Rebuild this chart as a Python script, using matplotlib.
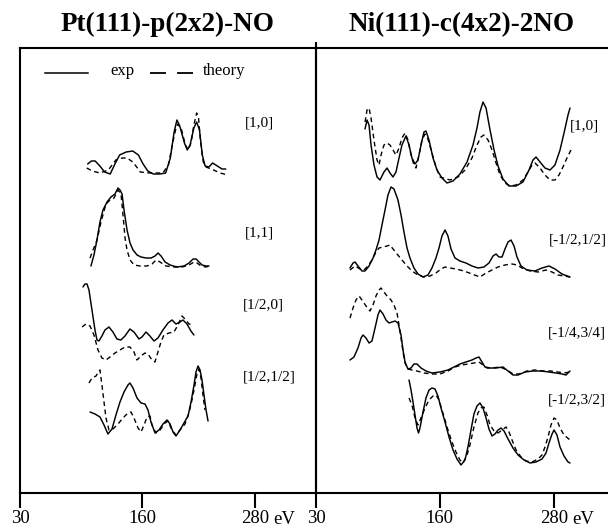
import matplotlib
matplotlib.use("Agg")
import matplotlib.pyplot as plt
from matplotlib.lines import Line2D

plt.rcParams['font.family'] = ['Liberation Serif', 'DejaVu Serif']
plt.rcParams['lines.scale_dashes'] = False

# ---------------- data (energy in eV, intensity in arbitrary offset units) ----------------
titles = ["Pt(111)-p(2x2)-NO", "Ni(111)-c(4x2)-2NO"]
tick_values = [30, 160, 280]
tick_labels = ["30", "160", "280"]
unit_label = "eV"

# Pt(111) panel
pt_labels = ["[1,0]", "[1,1]", "[1/2,0]", "[1/2,1/2]"]

pt10_exp_E = [102, 106, 110, 115, 120, 126, 131, 136, 143, 150, 156, 161, 166, 172, 179, 185, 190,
              194, 197, 200, 205, 208, 211, 215, 218, 221, 224, 227, 231, 235, 240, 245, 249]
pt10_exp_I = [329, 332, 332, 327, 321, 319, 329, 338, 341, 342, 338, 329, 322, 319, 319, 320, 335,
              361, 373, 367, 350, 343, 348, 365, 371, 363, 338, 327, 326, 330, 327, 324, 324]
pt10_th_E = [101, 107, 115, 124, 132, 139, 144, 150, 155, 158, 168, 182, 188, 192, 196, 198, 202,
             206, 209, 212, 215, 218, 220, 222, 225, 228, 236, 243, 251]
pt10_th_I = [325, 322, 320, 323, 333, 335, 335, 331, 325, 321, 320, 320, 328, 348, 365, 369, 363,
             348, 343, 350, 368, 380, 375, 353, 331, 326, 323, 320, 318]

pt11_exp_E = [105.5, 108.7, 111.9, 115.1, 118.3, 122.6, 126.8, 131.1, 134.3, 136.4, 138.6, 140.7,
              143.9, 147.1, 150.3, 154.6, 158.8, 164.1, 169.5, 173.7, 176.9, 180.1, 184.4, 189.7,
              197.1, 204.6, 209.9, 214.2, 217.4, 220.5, 223.7, 228.0, 231.2]
pt11_exp_I = [227, 238, 253, 271, 283, 291, 296, 299, 305, 303, 299, 283, 263, 250, 243, 238, 236,
              235, 235, 237, 240, 237, 231, 228, 226, 227, 230, 234, 234, 231, 228, 227, 227]
pt11_th_E = [104.5, 107.7, 112.0, 116.2, 121.5, 125.8, 130.0, 134.3, 137.5, 139.6, 141.8, 143.9,
             147.1, 151.4, 157.7, 165.2, 170.5, 174.8, 179.0, 185.4, 193.9, 202.4, 209.9, 215.2,
             218.4, 222.7, 228.0, 231.2]
pt11_th_I = [235, 243, 253, 271, 289, 293, 295, 303, 299, 278, 255, 243, 233, 228, 227, 227, 229,
             233, 231, 227, 226, 226, 228, 231, 230, 227, 226, 227]

pt20_exp_E = [97.0, 99.1, 101.3, 103.4, 106.6, 109.8, 111.9, 114.0, 117.2, 120.4, 124.7, 128.9,
              133.2, 137.4, 141.7, 147.0, 151.3, 156.6, 159.8, 164.1, 168.3, 172.6, 176.8, 182.1,
              187.5, 191.7, 196.0, 200.2, 203.4, 207.7, 211.9, 215.1]
pt20_exp_I = [206, 209, 209, 203, 183, 163, 153, 152, 157, 163, 166, 161, 154, 153, 157, 164, 161,
              154, 156, 161, 157, 152, 155, 163, 170, 173, 169, 171, 173, 169, 162, 158]
pt20_th_E = [96.0, 100.2, 104.5, 108.7, 113.0, 117.2, 121.5, 125.8, 131.1, 136.4, 141.7, 147.0,
             151.3, 154.5, 158.7, 163.0, 166.2, 170.4, 173.6, 176.8, 180.0, 183.2, 188.5, 193.9,
             198.1, 202.4, 205.6, 209.8, 215.1]
pt20_th_I = [166, 169, 167, 158, 143, 135, 133, 136, 140, 143, 146, 146, 141, 133, 137, 140, 139,
             133, 131, 141, 151, 158, 160, 161, 168, 177, 174, 169, 168]

pt22_exp_E = [104.5, 109.8, 115.1, 119.4, 123.6, 127.9, 132.1, 136.4, 140.7, 144.9, 147.0, 150.3,
              154.5, 158.8, 163.0, 166.2, 169.4, 173.7, 177.9, 182.2, 186.4, 189.7, 192.8, 196.0,
              200.3, 204.5, 208.8, 212.0, 215.2, 217.3, 219.5, 221.6, 223.7, 225.8, 228.0, 230.1]
pt22_exp_I = [81, 79, 76, 68, 59, 64, 78, 91, 101, 108, 110, 105, 95, 90, 89, 83, 71, 60, 63, 69,
              73, 69, 61, 57, 63, 70, 77, 91, 108, 121, 127, 123, 113, 98, 83, 72]
pt22_th_E = [103.4, 106.6, 110.9, 114.1, 115.1, 117.2, 119.4, 121.5, 124.7, 128.9, 134.3, 139.6,
             144.9, 148.1, 151.3, 155.6, 158.8, 162.0, 165.2, 168.3, 170.4, 174.7, 179.0, 184.3,
             187.5, 191.7, 196.0, 200.2, 205.6, 209.8, 213.0, 216.2, 218.3, 220.5, 222.6, 224.7,
             226.8]
pt22_th_I = [110, 115, 117, 122, 123, 108, 91, 75, 63, 64, 69, 75, 80, 81, 75, 65, 61, 68, 76, 77,
             68, 60, 63, 70, 72, 63, 58, 63, 69, 80, 93, 108, 119, 124, 115, 98, 83]

# Ni(111) panel
ni_labels = ["[1,0]", "[-1/2,1/2]", "[-1/4,3/4]", "[-1/2,3/2]"]

ni10_exp_E = [81.5, 83.6, 85.7, 87.8, 90.9, 94.1, 97.2, 101.4, 104.6, 107.7, 110.9, 114.0, 117.2,
              120.3, 124.5, 127.7, 130.8, 134.0, 137.1, 140.3, 143.4, 145.5, 148.7, 152.9, 157.1,
              162.3, 167.6, 173.9, 181.2, 188.6, 194.9, 199.1, 202.2, 205.4, 208.6, 212.8, 217.0,
              221.2, 226.4, 232.7, 240.1, 247.4, 253.7, 257.9, 261.1, 265.3, 270.5, 275.8, 281.0,
              286.3, 290.5, 294.7, 296.8]
ni10_exp_I = [364, 373, 368, 348, 328, 316, 313, 321, 325, 320, 316, 321, 335, 348, 357, 348, 335,
              329, 333, 348, 361, 362, 353, 335, 323, 315, 310, 312, 319, 331, 348, 365, 381, 391,
              385, 363, 343, 327, 314, 307, 307, 311, 323, 333, 336, 331, 325, 323, 328, 343, 360,
              378, 385]
ni10_th_E = [81.5, 83.6, 85.7, 87.8, 90.9, 94.1, 96.2, 98.3, 101.4, 104.6, 107.7, 110.9, 114.0,
             117.2, 120.3, 123.5, 126.6, 129.8, 132.9, 135.0, 138.2, 141.3, 144.5, 147.6, 151.8,
             156.0, 160.2, 170.7, 179.1, 186.5, 193.8, 199.1, 203.3, 206.4, 210.7, 214.9, 219.1,
             223.3, 228.5, 233.8, 240.1, 247.4, 252.7, 256.9, 260.0, 265.3, 270.5, 275.8, 281.0,
             285.2, 289.4, 293.6, 297.8]
ni10_th_I = [371, 383, 385, 375, 353, 333, 328, 338, 348, 350, 348, 343, 338, 345, 355, 360, 353,
             338, 328, 325, 338, 353, 359, 354, 340, 326, 316, 313, 316, 323, 335, 348, 356, 358,
             353, 343, 330, 318, 310, 307, 308, 313, 321, 328, 330, 325, 318, 313, 313, 318, 326,
             335, 343]

ni22_exp_E = [65.7, 68.9, 71.0, 74.1, 78.3, 81.5, 85.7, 89.9, 93.0, 96.2, 99.3, 102.5, 105.6,
              108.8, 111.9, 116.1, 119.3, 122.4, 125.6, 128.7, 132.9, 137.1, 142.4, 147.6, 151.8,
              156.0, 159.2, 162.3, 165.5, 168.6, 171.8, 176.0, 181.2, 187.5, 193.8, 200.1, 206.4,
              211.7, 215.9, 219.1, 222.2, 225.4, 228.5, 231.7, 234.8, 238.0, 241.1, 245.3, 251.6,
              260.0, 267.4, 274.7, 281.0, 288.4, 296.8]
ni22_exp_I = [225, 230, 231, 227, 222, 222, 227, 235, 243, 253, 268, 283, 298, 306, 304, 293, 278,
              261, 245, 235, 225, 219, 216, 218, 225, 235, 245, 257, 263, 257, 244, 235, 232, 230,
              227, 225, 226, 230, 237, 239, 236, 236, 244, 251, 253, 247, 236, 227, 223, 222, 225,
              227, 224, 219, 216]
ni22_th_E = [65.7, 71.0, 76.2, 80.4, 84.6, 88.8, 93.0, 96.2, 100.4, 104.6, 107.7, 110.9, 115.1,
             120.3, 125.6, 130.8, 137.1, 143.4, 149.7, 156.0, 161.3, 165.5, 170.7, 177.0, 185.4,
             193.8, 202.2, 208.6, 214.9, 221.2, 228.5, 235.9, 241.1, 246.4, 254.8, 263.2, 271.6,
             277.9, 284.2, 290.5, 296.8]
ni22_th_I = [223, 227, 224, 223, 227, 233, 241, 245, 246, 247, 248, 244, 239, 233, 227, 222, 218,
             216, 217, 220, 224, 226, 225, 224, 222, 219, 216, 220, 223, 226, 228, 229, 228, 225,
             222, 221, 223, 221, 218, 217, 216]

ni43_exp_E = [65.7, 69.9, 74.1, 77.3, 79.4, 82.5, 85.7, 88.8, 92.0, 95.1, 97.2, 100.4, 103.5,
              106.7, 109.8, 113.0, 116.1, 119.3, 121.4, 123.5, 126.6, 129.8, 132.9, 136.1, 140.3,
              145.5, 151.8, 160.2, 168.6, 174.9, 181.2, 187.5, 193.8, 198.0, 201.2, 204.3, 207.5,
              212.8, 219.1, 226.4, 231.7, 236.9, 242.2, 249.5, 257.9, 266.3, 274.7, 282.1, 288.4,
              292.6, 296.8]
ni43_exp_I = [133, 136, 145, 155, 158, 155, 150, 152, 165, 178, 183, 179, 173, 170, 171, 172, 170,
              158, 143, 131, 124, 125, 129, 129, 125, 122, 120, 121, 123, 126, 129, 131, 133, 135,
              136, 131, 126, 125, 125, 126, 122, 118, 118, 121, 122, 122, 121, 120, 119, 118, 122]
ni43_th_E = [65.7, 68.9, 72.0, 75.2, 78.3, 82.5, 86.7, 89.9, 93.0, 96.2, 98.3, 101.4, 104.6,
             108.8, 111.9, 115.1, 117.2, 119.3, 121.4, 123.5, 126.6, 130.8, 136.1, 143.4, 151.8,
             160.2, 168.6, 176.0, 183.3, 189.6, 195.9, 201.2, 205.4, 209.6, 214.9, 223.3, 230.6,
             236.9, 243.2, 251.6, 260.0, 268.4, 276.8, 284.2, 290.5, 296.8]
ni43_th_I = [175, 185, 193, 197, 193, 187, 182, 188, 197, 203, 205, 201, 197, 193, 188, 180, 168,
             155, 141, 130, 124, 123, 122, 120, 119, 119, 122, 126, 128, 129, 130, 131, 128, 125,
             125, 126, 123, 119, 119, 122, 123, 122, 122, 121, 120, 121]

ni23_exp_E = [127.7, 129.8, 131.9, 134.0, 136.1, 137.7, 139.2, 142.4, 145.5, 148.7, 151.8, 155.0,
              158.1, 161.3, 165.5, 169.7, 173.9, 178.1, 182.3, 186.5, 189.6, 192.8, 195.9, 199.1,
              202.2, 205.4, 208.6, 211.7, 214.9, 218.0, 221.2, 224.3, 227.5, 231.7, 236.9, 242.2,
              248.5, 254.8, 261.1, 267.4, 271.6, 274.7, 277.9, 280.0, 283.1, 286.3, 290.5, 294.7,
              296.8]
ni23_exp_I = [113, 103, 91, 78, 65, 60, 65, 81, 95, 103, 105, 104, 97, 85, 71, 56, 43, 34, 28, 33,
              46, 63, 79, 87, 90, 85, 75, 64, 57, 59, 63, 65, 62, 54, 45, 38, 33, 30, 31, 34, 40,
              50, 59, 63, 58, 46, 37, 31, 30]
ni23_th_E = [127.7, 130.8, 134.0, 137.1, 140.3, 144.5, 148.7, 152.9, 156.0, 159.2, 162.3, 165.5,
             168.6, 172.8, 177.0, 181.2, 184.4, 188.6, 191.7, 195.9, 200.1, 203.3, 206.4, 209.6,
             212.8, 217.0, 221.2, 225.4, 229.6, 232.7, 235.9, 240.1, 245.3, 250.6, 256.9, 263.2,
             267.4, 270.5, 273.7, 276.8, 280.0, 283.1, 286.3, 290.5, 296.8]
ni23_th_I = [95, 88, 75, 68, 75, 85, 93, 97, 98, 93, 83, 73, 63, 51, 41, 33, 30, 38, 48, 66, 80,
             85, 86, 78, 68, 62, 60, 63, 66, 61, 53, 43, 36, 32, 31, 34, 38, 46, 56, 68, 75, 73,
             65, 58, 53]

# ---------------- figure ----------------
W, H = 608, 529
fig = plt.figure(figsize=(W / 100, H / 100), dpi=100)
fig.patch.set_facecolor('white')

ax1 = fig.add_axes([20 / W, 1 - 493 / H, 296 / W, 445 / H])
ax2 = fig.add_axes([316 / W, 1 - 493 / H, 292 / W, 445 / H])

SOLID = dict(color='black', lw=1.05, solid_capstyle='round')
DASH = dict(color='black', lw=1.0, linestyle=(0, (3.4, 2.5)))

pt_curves = [(pt10_exp_E, pt10_exp_I, pt10_th_E, pt10_th_I),
             (pt11_exp_E, pt11_exp_I, pt11_th_E, pt11_th_I),
             (pt20_exp_E, pt20_exp_I, pt20_th_E, pt20_th_I),
             (pt22_exp_E, pt22_exp_I, pt22_th_E, pt22_th_I)]
ni_curves = [(ni10_exp_E, ni10_exp_I, ni10_th_E, ni10_th_I),
             (ni22_exp_E, ni22_exp_I, ni22_th_E, ni22_th_I),
             (ni43_exp_E, ni43_exp_I, ni43_th_E, ni43_th_I),
             (ni23_exp_E, ni23_exp_I, ni23_th_E, ni23_th_I)]

for ax, curves, xmax, title in ((ax1, pt_curves, 345, titles[0]),
                                (ax2, ni_curves, 336.7, titles[1])):
    for eE, eI, tE, tI in curves:
        ax.plot(tE, tI, **DASH)
        ax.plot(eE, eI, **SOLID)
    ax.set_xlim(30, xmax)
    ax.set_ylim(0, 445)
    ax.set_yticks([])
    ax.set_xticks(tick_values)
    ax.set_xticklabels(tick_labels)
    ax.tick_params(axis='x', direction='out', length=10.5, width=1.5, pad=1.5,
                   labelsize=13.5)
    for s in ax.spines.values():
        s.set_linewidth(1.5)
    ax.spines['right'].set_visible(False)
    ax.patch.set_alpha(0)
    ax.annotate(unit_label, xy=(280, 0), xycoords=('data', 'axes fraction'),
                xytext=(13.2, -19.3), textcoords='offset points',
                ha='left', va='center', fontsize=13.5)
    ax.set_title(title, fontsize=19.5, fontweight='bold', pad=12)

# divider line between panels (left spine of panel 2 extends slightly above)
ax2.plot([0, 0], [0, 1.014], transform=ax2.transAxes, color='black', lw=1.5,
         clip_on=False, solid_capstyle='butt')

# curve labels
pt_label_pos = [(0.760, 0.831), (0.760, 0.584), (0.753, 0.422), (0.753, 0.261)]
ni_label_pos = [(0.870, 0.825), (0.798, 0.569), (0.795, 0.360), (0.795, 0.209)]
for txt, (x, y) in zip(pt_labels, pt_label_pos):
    ax1.text(x, y, txt, transform=ax1.transAxes, fontsize=11, ha='left', va='center')
for txt, (x, y) in zip(ni_labels, ni_label_pos):
    ax2.text(x, y, txt, transform=ax2.transAxes, fontsize=11, ha='left', va='center')

# legend drawn by hand
ly = 0.944
ax1.add_line(Line2D([0.0845, 0.230], [ly, ly], transform=ax1.transAxes, color='black', lw=1.1))
ax1.text(0.304, ly + 0.004, "exp", transform=ax1.transAxes, fontsize=12, ha='left', va='center')
ax1.add_line(Line2D([0.439, 0.584], [ly, ly], transform=ax1.transAxes, color='black', lw=1.3,
                    linestyle=(0, (11.5, 8.0))))
ax1.text(0.618, ly + 0.004, "theory", transform=ax1.transAxes, fontsize=12, ha='left',
         va='center')

fig.savefig("out.png", dpi=100, facecolor='white')
